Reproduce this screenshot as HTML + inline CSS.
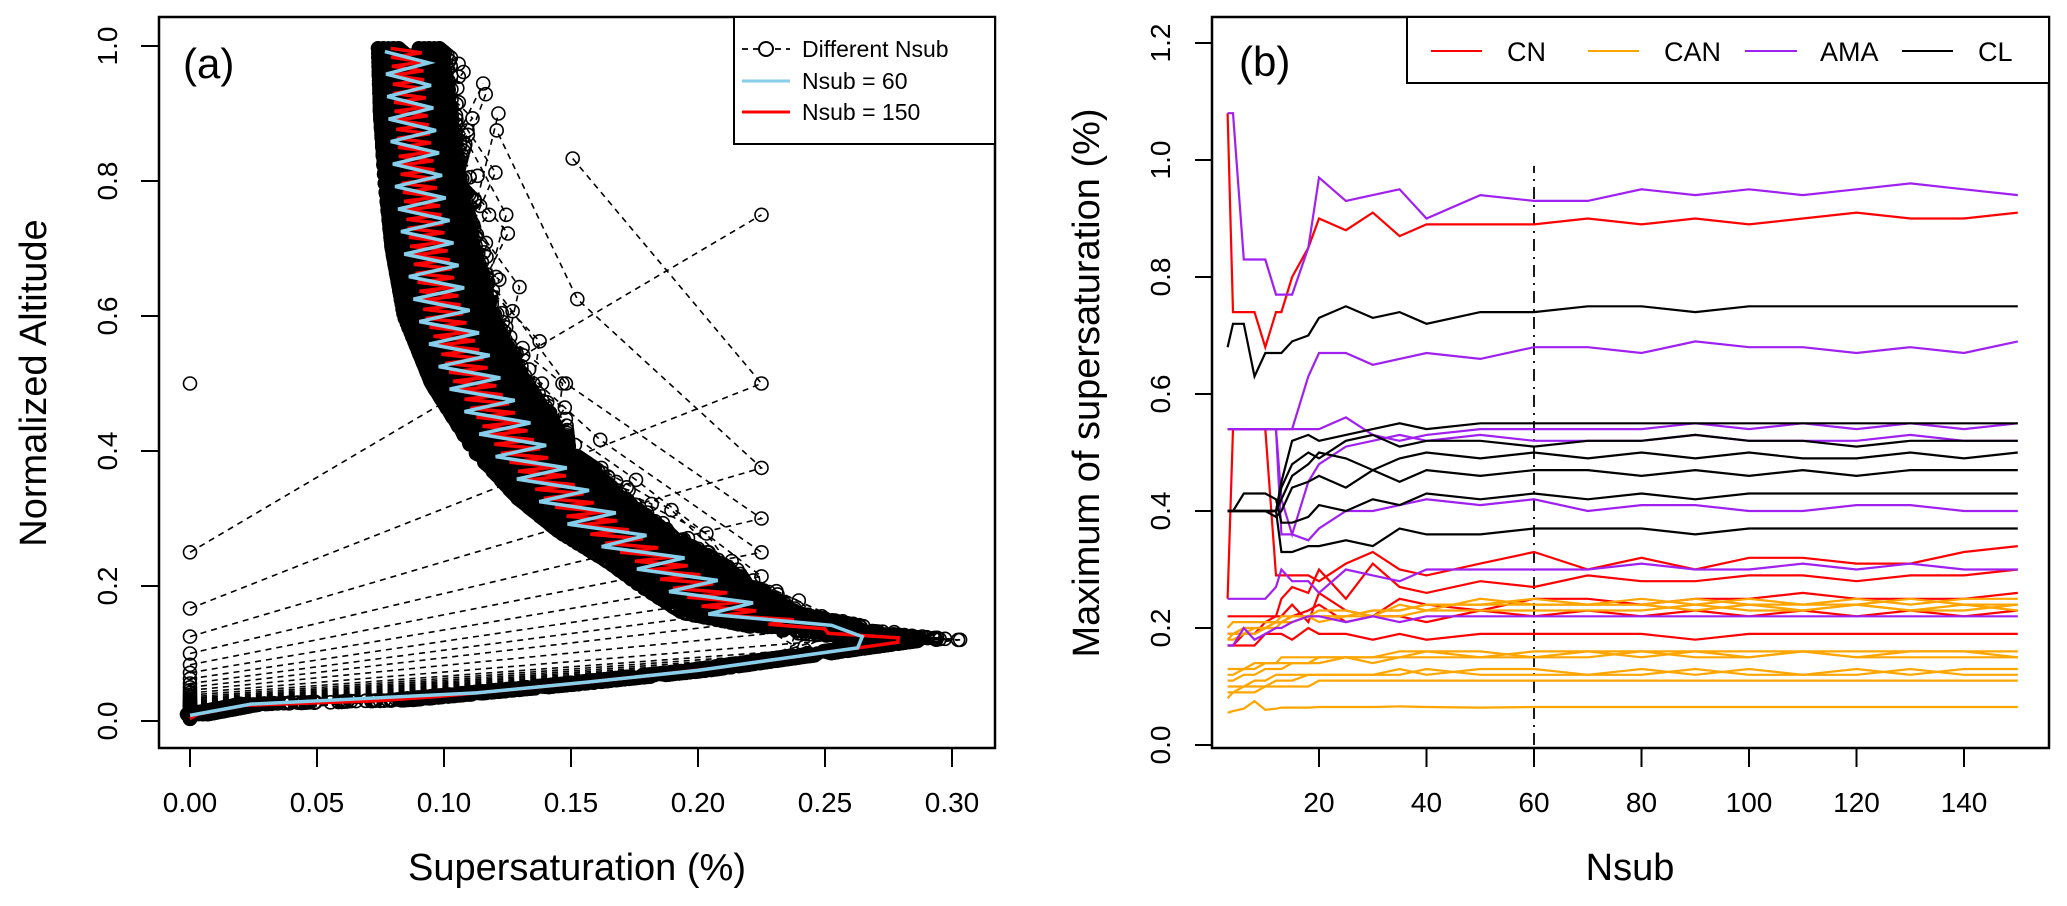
<!DOCTYPE html>
<html><head><meta charset="utf-8"><style>
body{margin:0;background:#fff}
svg{display:block;font-family:"Liberation Sans",Arial,sans-serif}
</style></head><body>
<svg id="fig" width="2067" height="906" viewBox="0 0 2067 906" xmlns="http://www.w3.org/2000/svg">
<defs>
<clipPath id="clipA"><rect x="159" y="17" width="836" height="731"/></clipPath>
<clipPath id="clipB"><rect x="1212" y="17" width="837" height="731"/></clipPath>
</defs>
<g id="panelA">
<g id="aMarks" clip-path="url(#clipA)"></g>
<rect x="159" y="17" width="836" height="731" fill="none" stroke="#000" stroke-width="2.5"/>
<g id="aAxes"></g>
<text x="183" y="78" font-size="42">(a)</text>
<text x="577" y="880" font-size="38" text-anchor="middle">Supersaturation (%)</text>
<text transform="translate(46,383) rotate(-90)" font-size="38" text-anchor="middle">Normalized Altitude</text>
<g>
<rect x="734" y="17" width="261" height="127" fill="#fff" stroke="#000" stroke-width="2"/>
<g>
<line x1="742" y1="49" x2="790" y2="49" stroke="#000" stroke-width="1.8" stroke-dasharray="6,5"/>
<circle cx="766" cy="49" r="7" fill="#fff" stroke="#000" stroke-width="2"/>
<text x="802" y="57" font-size="23">Different Nsub</text></g>
<g>
<line x1="742" y1="81" x2="790" y2="81" stroke="#87ceeb" stroke-width="3"/>
<text x="802" y="89" font-size="23">Nsub = 60</text></g>
<g>
<line x1="742" y1="112" x2="790" y2="112" stroke="#ff0000" stroke-width="3"/>
<text x="802" y="120" font-size="23">Nsub = 150</text></g>
</g>
</g>
<g id="panelB">
<g id="bMarks" clip-path="url(#clipB)"></g>
<rect x="1212" y="17" width="837" height="731" fill="none" stroke="#000" stroke-width="2.5"/>
<g id="bAxes"></g>
<text x="1239" y="76" font-size="42">(b)</text>
<text x="1630" y="880" font-size="38" text-anchor="middle">Nsub</text>
<text transform="translate(1099,383) rotate(-90)" font-size="38" text-anchor="middle">Maximum of supersaturation (%)</text>
<g>
<rect x="1407" y="17" width="642" height="66" fill="#fff" stroke="#000" stroke-width="2"/>
<g><line x1="1431" y1="51" x2="1482" y2="51" stroke="#ff0000" stroke-width="2"/><text x="1507" y="61" font-size="27">CN</text></g>
<g><line x1="1588" y1="51" x2="1639" y2="51" stroke="#ffa500" stroke-width="2"/><text x="1664" y="61" font-size="27">CAN</text></g>
<g><line x1="1745" y1="51" x2="1797" y2="51" stroke="#a020f0" stroke-width="2"/><text x="1820" y="61" font-size="27">AMA</text></g>
<g><line x1="1902" y1="51" x2="1953" y2="51" stroke="#000" stroke-width="2"/><text x="1978" y="61" font-size="27">CL</text></g>
</g>
</g>
</svg>
<script>
// ---------- Panel (a) data ----------
const upperY = [0.12,0.13,0.16,0.20,0.235,0.28,0.33,0.40,0.50,0.60,0.70,0.80,0.90,1.00];
const upperX = [0.285,0.255,0.215,0.198,0.185,0.165,0.148,0.13,0.112,0.10,0.094,0.09,0.087,0.085];
const lowerY = [0.0,0.008,0.025,0.031,0.055,0.075,0.10,0.12];
const lowerX = [0.0,0.0,0.024,0.083,0.15,0.20,0.247,0.285];
const nsubMax = 150;
const zigAmp = 0.016;
const highlightN = [60,150];
const xTicksA = [0,0.05,0.10,0.15,0.20,0.25,0.30];
const xTickLabelsA = ["0.00","0.05","0.10","0.15","0.20","0.25","0.30"];
const yTicksA = [0,0.2,0.4,0.6,0.8,1.0];
const yTickLabelsA = ["0.0","0.2","0.4","0.6","0.8","1.0"];
// ---------- Panel (b) data ----------
const nsubB = [3,4,6,8,10,12,13,15,18,20,25,30,35,40,50,60,70,80,90,100,110,120,130,140,150];
const cnSeries = [
[1.08,0.74,0.74,0.74,0.68,0.74,0.74,0.80,0.85,0.90,0.88,0.91,0.87,0.89,0.89,0.89,0.90,0.89,0.90,0.89,0.90,0.91,0.90,0.90,0.91],
[0.25,0.54,0.54,0.54,0.54,0.29,0.29,0.29,0.29,0.28,0.31,0.33,0.30,0.29,0.31,0.33,0.30,0.32,0.30,0.32,0.32,0.31,0.31,0.33,0.34],
[0.22,0.22,0.22,0.22,0.22,0.22,0.25,0.27,0.26,0.30,0.25,0.31,0.27,0.26,0.28,0.27,0.29,0.28,0.28,0.29,0.29,0.28,0.29,0.29,0.30],
[0.19,0.19,0.19,0.19,0.21,0.22,0.22,0.24,0.21,0.26,0.23,0.22,0.25,0.24,0.23,0.25,0.25,0.24,0.25,0.25,0.26,0.25,0.25,0.25,0.26],
[0.17,0.17,0.19,0.19,0.20,0.21,0.21,0.22,0.23,0.24,0.21,0.22,0.22,0.21,0.23,0.22,0.23,0.22,0.23,0.22,0.23,0.22,0.23,0.22,0.23],
[0.17,0.17,0.17,0.17,0.19,0.19,0.19,0.18,0.20,0.19,0.19,0.18,0.19,0.18,0.19,0.19,0.19,0.19,0.18,0.19,0.19,0.19,0.19,0.19,0.19]];
const canSeries = [
[0.20,0.21,0.21,0.21,0.21,0.21,0.22,0.22,0.22,0.22,0.22,0.23,0.23,0.24,0.24,0.24,0.24,0.25,0.24,0.25,0.24,0.25,0.24,0.25,0.25],
[0.18,0.18,0.19,0.20,0.20,0.21,0.21,0.22,0.22,0.23,0.23,0.22,0.24,0.23,0.25,0.24,0.24,0.24,0.25,0.24,0.24,0.24,0.25,0.24,0.24],
[0.19,0.19,0.20,0.20,0.20,0.20,0.21,0.21,0.22,0.22,0.22,0.23,0.23,0.24,0.24,0.25,0.24,0.24,0.23,0.24,0.23,0.24,0.23,0.24,0.23],
[0.18,0.19,0.19,0.19,0.20,0.20,0.21,0.21,0.22,0.21,0.22,0.22,0.22,0.23,0.23,0.23,0.23,0.23,0.24,0.23,0.23,0.24,0.23,0.23,0.24],
[0.13,0.13,0.13,0.14,0.14,0.14,0.15,0.15,0.15,0.15,0.15,0.15,0.16,0.16,0.15,0.16,0.16,0.16,0.16,0.16,0.16,0.16,0.16,0.16,0.16],
[0.12,0.12,0.13,0.13,0.14,0.14,0.14,0.14,0.14,0.15,0.15,0.15,0.15,0.16,0.16,0.15,0.16,0.15,0.16,0.15,0.16,0.15,0.16,0.16,0.15],
[0.11,0.11,0.12,0.12,0.13,0.13,0.13,0.14,0.14,0.14,0.15,0.14,0.15,0.15,0.15,0.15,0.15,0.16,0.15,0.15,0.16,0.15,0.15,0.15,0.15],
[0.10,0.10,0.10,0.11,0.11,0.12,0.12,0.12,0.12,0.12,0.12,0.12,0.13,0.12,0.13,0.13,0.12,0.13,0.12,0.13,0.12,0.13,0.12,0.13,0.13],
[0.09,0.09,0.10,0.10,0.10,0.11,0.11,0.11,0.12,0.12,0.12,0.12,0.12,0.13,0.12,0.12,0.12,0.12,0.13,0.12,0.12,0.12,0.13,0.12,0.12],
[0.08,0.09,0.09,0.09,0.10,0.10,0.10,0.10,0.10,0.11,0.11,0.11,0.11,0.11,0.11,0.11,0.11,0.11,0.11,0.11,0.11,0.11,0.11,0.11,0.11],
[0.055,0.058,0.062,0.075,0.060,0.062,0.064,0.064,0.064,0.065,0.065,0.065,0.066,0.065,0.064,0.065,0.065,0.065,0.065,0.065,0.065,0.065,0.065,0.065,0.065]];
const amaSeries = [
[1.08,1.08,0.83,0.83,0.83,0.77,0.77,0.77,0.85,0.97,0.93,0.94,0.95,0.90,0.94,0.93,0.93,0.95,0.94,0.95,0.94,0.95,0.96,0.95,0.94],
[0.54,0.54,0.54,0.54,0.54,0.54,0.54,0.54,0.63,0.67,0.67,0.65,0.66,0.67,0.66,0.68,0.68,0.67,0.69,0.68,0.68,0.67,0.68,0.67,0.69],
[0.54,0.54,0.54,0.54,0.54,0.54,0.54,0.54,0.54,0.54,0.56,0.53,0.52,0.53,0.54,0.54,0.54,0.54,0.55,0.54,0.55,0.54,0.55,0.54,0.55],
[0.54,0.54,0.54,0.54,0.54,0.54,0.42,0.36,0.45,0.48,0.51,0.52,0.53,0.52,0.53,0.52,0.52,0.52,0.53,0.52,0.52,0.52,0.53,0.52,0.52],
[0.54,0.54,0.54,0.54,0.54,0.54,0.36,0.36,0.35,0.37,0.40,0.40,0.41,0.42,0.41,0.42,0.40,0.41,0.41,0.40,0.40,0.41,0.41,0.40,0.40],
[0.25,0.25,0.25,0.25,0.25,0.27,0.30,0.28,0.28,0.26,0.30,0.29,0.28,0.30,0.30,0.30,0.30,0.31,0.30,0.30,0.31,0.30,0.31,0.30,0.30],
[0.17,0.17,0.20,0.18,0.19,0.20,0.20,0.21,0.22,0.22,0.21,0.22,0.21,0.22,0.22,0.22,0.22,0.22,0.22,0.22,0.22,0.22,0.22,0.22,0.22]];
const clSeries = [
[0.68,0.72,0.72,0.63,0.67,0.67,0.67,0.69,0.70,0.73,0.75,0.73,0.74,0.72,0.74,0.74,0.75,0.75,0.74,0.75,0.75,0.75,0.75,0.75,0.75],
[0.40,0.40,0.40,0.40,0.40,0.40,0.45,0.52,0.53,0.52,0.53,0.54,0.55,0.54,0.55,0.55,0.55,0.55,0.55,0.55,0.55,0.55,0.55,0.55,0.55],
[0.40,0.40,0.40,0.40,0.40,0.40,0.44,0.48,0.50,0.49,0.52,0.53,0.51,0.52,0.52,0.51,0.52,0.52,0.53,0.52,0.52,0.51,0.52,0.52,0.52],
[0.40,0.40,0.40,0.40,0.40,0.40,0.42,0.46,0.48,0.50,0.49,0.47,0.49,0.50,0.49,0.50,0.49,0.50,0.49,0.50,0.49,0.49,0.50,0.49,0.50],
[0.40,0.40,0.40,0.40,0.40,0.39,0.40,0.44,0.45,0.46,0.44,0.47,0.45,0.47,0.46,0.47,0.47,0.46,0.47,0.46,0.47,0.46,0.47,0.47,0.47],
[0.40,0.40,0.43,0.43,0.43,0.42,0.38,0.38,0.39,0.41,0.40,0.42,0.41,0.43,0.42,0.43,0.42,0.43,0.42,0.43,0.43,0.43,0.43,0.43,0.43],
[0.40,0.40,0.40,0.40,0.40,0.40,0.33,0.33,0.34,0.34,0.35,0.34,0.37,0.36,0.36,0.37,0.37,0.37,0.36,0.37,0.37,0.37,0.37,0.37,0.37]];
const refNsub = 60;
const refLineTop = 0.99;
const xTicksB = [20,40,60,80,100,120,140];
const xTickLabelsB = ["20","40","60","80","100","120","140"];
const yTicksB = [0,0.2,0.4,0.6,0.8,1.0,1.2];
const yTickLabelsB = ["0.0","0.2","0.4","0.6","0.8","1.0","1.2"];

const NS = "http://www.w3.org/2000/svg";
function mk(tag, attrs, parent){const e=document.createElementNS(NS,tag);for(const k in attrs)e.setAttribute(k,attrs[k]);parent.appendChild(e);return e;}
const axA = v => 190 + v*2540;
const ayA = v => 721 - v*675;
const axB = n => 1319 + (n-20)*5.375;
const ayB = v => 745 - v*585;

function interp(xs, ys, v){
  if (v <= xs[0]) return ys[0];
  for (let i=1;i<xs.length;i++){ if (v <= xs[i]) { const t=(v-xs[i-1])/(xs[i]-xs[i-1]); return ys[i-1]+t*(ys[i]-ys[i-1]); } }
  return ys[ys.length-1];
}
function profile(N){
  const pts=[];
  const shift=((N%5)-2)*0.004;
  for (let i=0;i<N;i++){
    const y=(i+0.5)/N;
    let x;
    if (i===0) x=0;
    else if (y < upperY[0]) x=interp(lowerY, lowerX, y)+(N>20?shift*0.5:0);
    else {
      const s=1-0.5*y;
      x=interp(upperY, upperX, y);
      if (i===1) x=Math.max(x, Math.min(0.225, x+0.6/N));
      else x += 0.15/N + ((i%2===0?zigAmp:-zigAmp)*(y<0.14?0.6:1) + shift)*s;
    }
    pts.push([x,y]);
  }
  return pts;
}
const aMarks=document.getElementById('aMarks');
const dashG=mk('g',{},aMarks);


const circG=mk('g',{fill:'none',stroke:'#000','stroke-width':'1.6'},aMarks);


for (let N=1; N<=nsubMax; N++){
  const pts=profile(N);
  if (N>1){
    const pl=mk('polyline',{points:pts.map(p=>axA(p[0]).toFixed(1)+','+ayA(p[1]).toFixed(1)).join(' '),fill:'none',stroke:'#000','stroke-width':'1.6','stroke-dasharray':'6,5'},dashG);
    
    
  }
  for (const p of pts){
    const c=mk('circle',{cx:axA(p[0]).toFixed(1),cy:ayA(p[1]).toFixed(1),r:'6.5'},circG);
    
    
  }
}
function hlLine(N,color,w,amp){
  const pts=[];
  for (let i=0;i<N;i++){
    const y=(i+0.5)/N; let x;
    if (i===0) x=interp(lowerY, lowerX, 0.008);
    else if (y<upperY[0]) x=interp(lowerY, lowerX, y);
    else x=interp(upperY, upperX, y)+(i%2===0?amp:-amp)*(y<0.14?0.4:1)*(1-0.4*y);
    pts.push([x,y]);
  }
  return mk('polyline',{points:pts.map(p=>axA(p[0]).toFixed(1)+','+ayA(p[1]).toFixed(1)).join(' '),fill:'none',stroke:color,'stroke-width':w},aMarks);
}
const redL=hlLine(highlightN[1],'#ff0000','3.5',0.01);


const cyanL=hlLine(highlightN[0],'#87ceeb','3.5',0.014);


const aAxes=document.getElementById('aAxes');
xTicksA.forEach((v,i)=>{
  const t=mk('line',{x1:axA(v),x2:axA(v),y1:748,y2:767,stroke:'#000','stroke-width':'2'},aAxes);
  
  
  const l=mk('text',{x:axA(v),y:812,'font-size':'28','text-anchor':'middle'},aAxes); l.textContent=xTickLabelsA[i];
  
  
});
yTicksA.forEach((v,i)=>{
  const t=mk('line',{x1:141,x2:159,y1:ayA(v),y2:ayA(v),stroke:'#000','stroke-width':'2'},aAxes);
  
  
  const l=mk('text',{transform:'translate(117,'+ayA(v)+') rotate(-90)','font-size':'28','text-anchor':'middle'},aAxes); l.textContent=yTickLabelsA[i];
  
  
});
const bMarks=document.getElementById('bMarks');
const ref=mk('line',{x1:axB(refNsub),x2:axB(refNsub),y1:ayB(0),y2:ayB(refLineTop),stroke:'#000','stroke-width':'1.8','stroke-dasharray':'12,6,2,6'},bMarks);


function drawGroup(series,color,name){
  const g=mk('g',{},bMarks);
  
  
  series.forEach((vals,k)=>{
    const pl=mk('polyline',{points:vals.map((v,i)=>axB(nsubB[i]).toFixed(1)+','+ayB(v).toFixed(1)).join(' '),fill:'none',stroke:color,'stroke-width':'2.2'},g);
    
    
  });
}
drawGroup(cnSeries,'#ff0000','cn');
drawGroup(canSeries,'#ffa500','can');
drawGroup(amaSeries,'#a020f0','ama');
drawGroup(clSeries,'#000000','cl');
const bAxes=document.getElementById('bAxes');
xTicksB.forEach((v,i)=>{
  const t=mk('line',{x1:axB(v),x2:axB(v),y1:748,y2:767,stroke:'#000','stroke-width':'2'},bAxes);
  
  
  const l=mk('text',{x:axB(v),y:812,'font-size':'28','text-anchor':'middle'},bAxes); l.textContent=xTickLabelsB[i];
  
  
});
yTicksB.forEach((v,i)=>{
  const t=mk('line',{x1:1195,x2:1212,y1:ayB(v),y2:ayB(v),stroke:'#000','stroke-width':'2'},bAxes);
  
  
  const l=mk('text',{transform:'translate(1170,'+ayB(v)+') rotate(-90)','font-size':'28','text-anchor':'middle'},bAxes); l.textContent=yTickLabelsB[i];
  
  
});
</script>
</body></html>
